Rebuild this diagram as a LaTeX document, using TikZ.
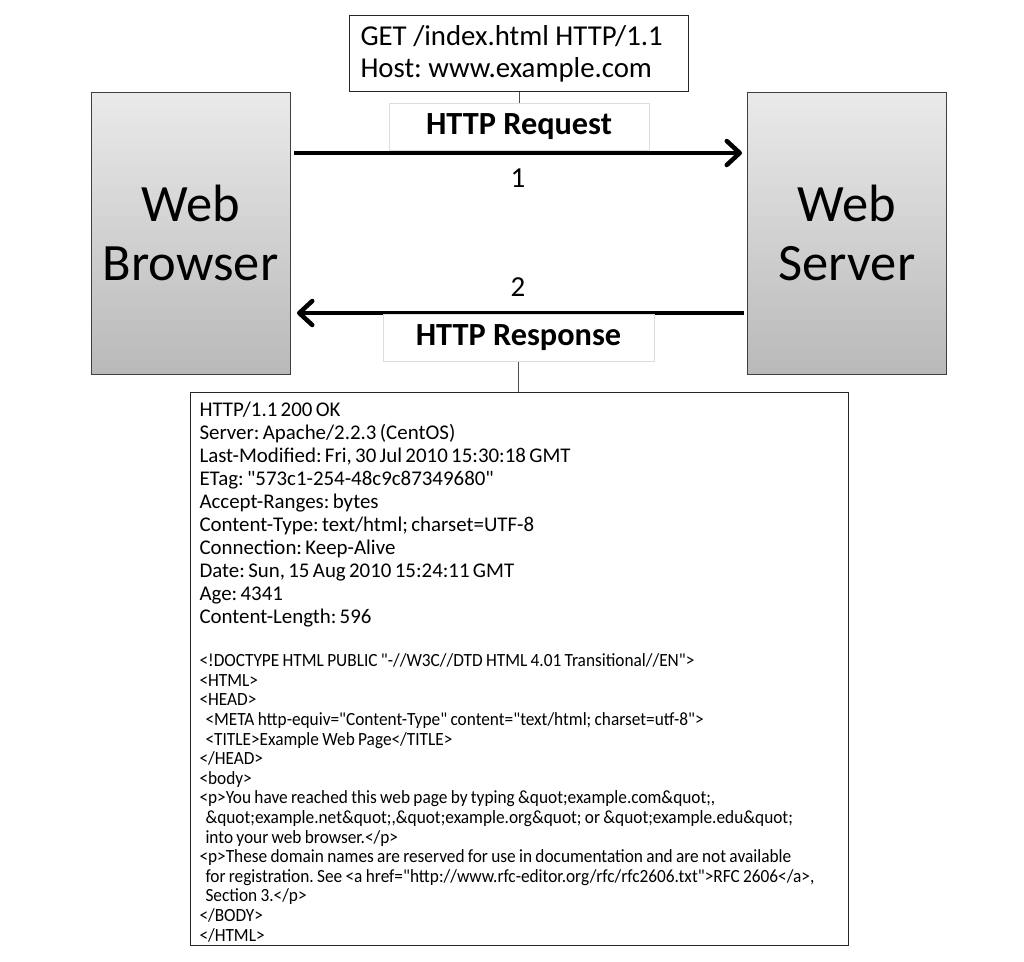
\documentclass[tikz,border=0pt]{standalone}
\usepackage{fontspec}
\setmainfont{Carlito}
\newfontfamily\condfont[FakeStretch=0.93]{Carlito}
\usetikzlibrary{arrows.meta}
\definecolor{boxtop}{HTML}{EAEAEA}
\definecolor{boxbot}{HTML}{B9B9B9}
\definecolor{boxedge}{HTML}{404040}
\definecolor{lbledge}{HTML}{DDDDDD}
\tikzset{
  machine/.style={draw=boxedge, line width=1pt, top color=boxtop, bottom color=boxbot, minimum width=199pt, minimum height=282pt, inner sep=0pt, align=center, font=\fontsize{52.5}{59}\selectfont},
  lblbox/.style={draw=lbledge, line width=0.8pt, fill=white, inner sep=0pt, minimum height=47pt, font=\bfseries\fontsize{32.3}{34}\selectfont},
  msgbox/.style={draw=black!85, line width=1pt, fill=white, inner sep=0pt, align=left, anchor=north west},
  flow/.style={line width=4.5pt, -{Straight Barb[length=13pt, width=24pt, line cap=round, line join=round]}},
  stem/.style={draw=black!70, line width=1pt},
  num/.style={font=\fontsize{29}{32}\selectfont, inner sep=0pt}
}
\begin{document}
\frenchspacing
\begin{tikzpicture}[x=1pt, y=-1pt]
\useasboundingbox (0,0) rectangle (1024,961);
% machines
\node[machine] (browser) at (190.5,233) {Web\\Browser};
\node[machine] (server) at (847,233) {Web\\Server};
% request box
\node[msgbox, minimum width=339pt, minimum height=76pt, inner xsep=0pt, inner ysep=0pt] (req) at (349,15) {%
\begin{minipage}[t][76pt][c]{339pt}\fontsize{28.8}{32}\selectfont\raggedright
\leftskip=11pt
GET /index.html HTTP/1.1\\Host: www.example.com
\end{minipage}};
\node[lblbox, minimum width=260pt] (reqlbl) at (519,127) {HTTP Request};
\draw[stem] (req.south) -- (reqlbl.north);
% arrows
\coordinate (a1s) at (294,153);
\coordinate (a1e) at (742,153);
\draw[flow] (a1s) -- (a1e);
\node[num] (n1) at (518,178) {1};
\coordinate (a2s) at (744,313);
\coordinate (a2e) at (297,313);
\draw[flow] (a2s) -- (a2e);
\node[num] (n2) at (518,287) {2};
\node[lblbox, minimum width=271pt] (reslbl) at (518.5,338) {HTTP Response};
% response box
\node[msgbox, minimum width=658pt, minimum height=553pt, text width=640pt, inner xsep=9pt, inner ysep=0pt] (res) at (190,392) {%
\begin{minipage}[t][553pt][t]{640pt}
\vspace{9pt}
{\fontsize{20.9}{23}\selectfont
HTTP/1.1 200 OK\\
Server: Apache/2.2.3 (CentOS)\\
Last-Modified: Fri, 30 Jul 2010 15:30:18 GMT\\
ETag: \textquotedbl 573c1-254-48c9c87349680\textquotedbl\\
Accept-Ranges: bytes\\
Content-Type: text/html; charset=UTF-8\\
Connection: Keep-Alive\\
Date: Sun, 15 Aug 2010 15:24:11 GMT\\
Age: 4341\\
Content-Length: 596\par}
\vspace{24pt}
{\condfont\fontsize{18.6}{19.6}\selectfont
<!DOCTYPE HTML PUBLIC "-//W3C//DTD HTML 4.01 Transitional//EN">\\
<HTML>\\
<HEAD>\\
\hspace*{6pt}<META http-equiv="Content-Type" content="text/html; charset=utf-8">\\
\hspace*{6pt}<TITLE>Example Web Page</TITLE>\\
</HEAD>\\
<body>\\
<p>You have reached this web page by typing \&quot;example.com\&quot;,\\
\hspace*{6pt}\&quot;example.net\&quot;,\&quot;example.org\&quot; or \&quot;example.edu\&quot;\\
\hspace*{6pt}into your web browser.</p>\\
<p>These domain names are reserved for use in documentation and are not available\\
\hspace*{6pt}for registration. See <a href="http://www.rfc-editor.org/rfc/rfc2606.txt">RFC 2606</a>,\\
\hspace*{6pt}Section 3.</p>\\
</BODY>\\
</HTML>\par}
\end{minipage}};
\draw[stem] (reslbl.south) -- (res.north -| reslbl.south);
\end{tikzpicture}
\end{document}
